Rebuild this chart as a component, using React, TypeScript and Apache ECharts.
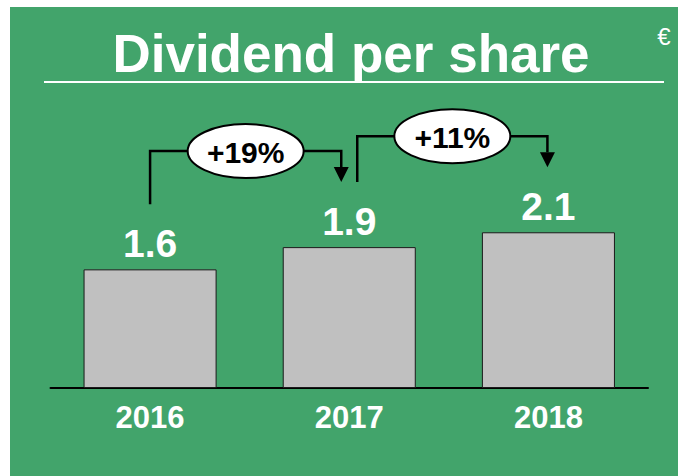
import React, { useEffect, useRef } from "react";
import * as echarts from "echarts";

const categories = ["2016", "2017", "2018"];
const dividends = [1.6, 1.9, 2.1];
const growthLabels = ["+19%", "+11%"];
const titleText = "Dividend per share";
const unitText = "€";

const FONT = "'Liberation Sans', Arial, sans-serif";

export default function App() {
  const ref = useRef<HTMLDivElement>(null);
  useEffect(() => {
    if (!ref.current) return;
    const chart = echarts.init(ref.current, null, { renderer: "svg" });
    const staticGraphic: any[] = [
      {
        id: "title",
        type: "text",
        x: 341,
        y: 46,
        z: 5,
        style: {
          text: titleText,
          fill: "#ffffff",
          font: `bold 53px ${FONT}`,
          textAlign: "center",
          textVerticalAlign: "middle",
        },
      },
      {
        id: "underline",
        type: "line",
        z: 5,
        shape: { x1: 34, y1: 75, x2: 654, y2: 75 },
        style: { stroke: "#ffffff", lineWidth: 2 },
      },
      {
        id: "unit",
        type: "text",
        x: 654,
        y: 29,
        z: 5,
        style: {
          text: unitText,
          fill: "#ffffff",
          font: `24px ${FONT}`,
          textAlign: "center",
          textVerticalAlign: "middle",
        },
      },
    ];
    const option: any = {
      animation: false,
      backgroundColor: "#42A46B",
      grid: { left: 40.5, right: 30, top: 84.4, bottom: 88, containLabel: false },
      xAxis: {
        type: "category",
        data: categories,
        axisLine: { show: true, lineStyle: { color: "#000000", width: 2 } },
        axisTick: { show: false },
        axisLabel: {
          color: "#ffffff",
          fontFamily: FONT,
          fontWeight: "bold",
          fontSize: 31,
          margin: 14,
        },
      },
      yAxis: {
        type: "value",
        min: 0,
        max: 4,
        show: false,
        splitLine: { show: false },
      },
      series: [
        {
          type: "bar",
          data: dividends,
          barWidth: "66.8%",
          itemStyle: { color: "#C0C0C0", borderColor: "#1a1a1a", borderWidth: 1 },
          label: {
            show: true,
            position: "top",
            distance: 6,
            color: "#ffffff",
            fontFamily: FONT,
            fontWeight: "bold",
            fontSize: 39,
            formatter: (p: any) => p.value.toFixed(1),
          },
        },
      ],
      graphic: staticGraphic,
    };
    chart.setOption(option);

    const startOffsets = [0, 8];
    const endOffsets = [-8, -1];
    const annot: any[] = [];
    growthLabels.forEach((g, i) => {
      const x0 = (chart.convertToPixel({ xAxisIndex: 0 }, categories[i]) as number) + startOffsets[i];
      const x1 = (chart.convertToPixel({ xAxisIndex: 0 }, categories[i + 1]) as number) + endOffsets[i];
      const yStart = (chart.convertToPixel({ yAxisIndex: 0 }, dividends[i]) as number) - 65;
      const yTip = (chart.convertToPixel({ yAxisIndex: 0 }, dividends[i + 1]) as number) - 65;
      const level = yTip - 31;
      const headH = 15;
      annot.push({
        id: `conn${i}`,
        type: "polyline",
        z: 10,
        shape: {
          points: [
            [x0, yStart],
            [x0, level],
            [x1, level],
            [x1, yTip - headH],
          ],
        },
        style: { stroke: "#000000", lineWidth: 2.5, fill: null },
      });
      annot.push({
        id: `head${i}`,
        type: "polygon",
        z: 10,
        shape: {
          points: [
            [x1 - 7.5, yTip - headH],
            [x1 + 7.5, yTip - headH],
            [x1, yTip],
          ],
        },
        style: { fill: "#000000" },
      });
      const cx = (x0 + x1) / 2;
      annot.push({
        id: `ell${i}`,
        type: "ellipse",
        z: 11,
        shape: { cx, cy: level, rx: 58, ry: 27 },
        style: { fill: "#ffffff", stroke: "#000000", lineWidth: 2 },
      });
      annot.push({
        id: `gtxt${i}`,
        type: "text",
        z: 12,
        x: cx,
        y: level + 1,
        style: {
          text: g,
          fill: "#000000",
          font: `bold 30px ${FONT}`,
          textAlign: "center",
          textVerticalAlign: "middle",
        },
      });
    });
    chart.setOption({ graphic: [...staticGraphic, ...annot] });

    return () => chart.dispose();
  }, []);
  return (
    <div
      ref={ref}
      style={{ position: "fixed", left: 10, top: 7, width: 668, height: 469 }}
    />
  );
}
